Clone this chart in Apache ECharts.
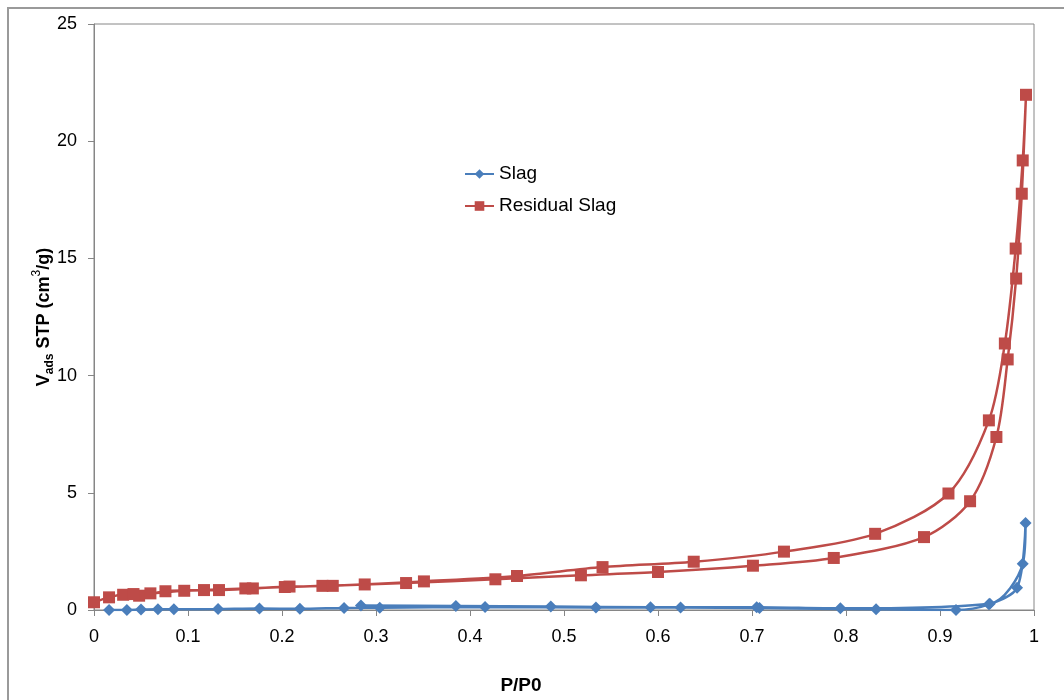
<!DOCTYPE html>
<html>
<head>
<meta charset="utf-8">
<script src="https://cdn.jsdelivr.net/npm/echarts@6/dist/echarts.min.js"></script>
<style>
html,body{margin:0;padding:0;background:#fff;}
#chart{width:1064px;height:700px;}
</style>
</head>
<body>
<div id="chart"></div>
<script>
// Tick settings
var xTicks = [0, 0.1, 0.2, 0.3, 0.4, 0.5, 0.6, 0.7, 0.8, 0.9, 1];
var yTicks = [0, 5, 10, 15, 20, 25];

// Slag (adsorption then desorption, in measured order)
var slagP = [0.016, 0.035, 0.050, 0.068, 0.085, 0.132, 0.176, 0.219, 0.266, 0.304, 0.416, 0.534, 0.624, 0.708, 0.832, 0.917, 0.952, 0.982, 0.991,
             0.988, 0.953, 0.794, 0.705, 0.592, 0.486, 0.385, 0.284];
var slagV = [0.00, 0.00, 0.02, 0.03, 0.03, 0.04, 0.06, 0.05, 0.09, 0.10, 0.13, 0.11, 0.11, 0.08, 0.03, 0.00, 0.24, 0.95, 3.71,
             1.97, 0.27, 0.07, 0.12, 0.12, 0.15, 0.17, 0.19];

// Residual Slag (adsorption then desorption)
var resP = [0.000, 0.016, 0.031, 0.048, 0.076, 0.117, 0.161, 0.203, 0.243, 0.288, 0.332, 0.427, 0.518, 0.600, 0.701, 0.787, 0.883, 0.932, 0.960, 0.972, 0.981, 0.987, 0.9915,
            0.988, 0.9805, 0.969, 0.952, 0.909, 0.831, 0.734, 0.638, 0.541, 0.450, 0.351, 0.254, 0.208, 0.169, 0.133, 0.096, 0.060, 0.042];
var resV = [0.33, 0.54, 0.65, 0.61, 0.80, 0.85, 0.92, 0.98, 1.03, 1.09, 1.15, 1.31, 1.48, 1.62, 1.89, 2.22, 3.11, 4.64, 7.38, 10.69, 14.14, 17.76, 21.98,
            19.18, 15.42, 11.37, 8.09, 4.97, 3.25, 2.49, 2.06, 1.83, 1.45, 1.22, 1.03, 1.00, 0.92, 0.85, 0.82, 0.71, 0.68];

var seriesNames = ['Slag', 'Residual Slag'];

function pairs(xs, ys) { return xs.map(function (x, i) { return [x, ys[i]]; }); }

var chart = echarts.init(document.getElementById('chart'), null, {renderer: 'canvas'});
var font = '"Liberation Sans", Arial, sans-serif';
var axisGrey = '#868686';

chart.setOption({
  animation: false,
  backgroundColor: '#fff',
  textStyle: {fontFamily: font},
  graphic: [{
    type: 'rect', silent: true, z: -10,
    shape: {x: 8, y: 8, width: 1200, height: 900},
    style: {fill: 'none', stroke: '#9a9a9a', lineWidth: 2}
  }],
  grid: {left: 94, right: 30, top: 24, bottom: 89, show: true, borderColor: axisGrey, borderWidth: 1},
  legend: {
    orient: 'vertical', left: 464, top: 164, padding: 0, itemGap: 12, itemWidth: 29, itemHeight: 12,
    data: seriesNames,
    textStyle: {fontFamily: font, fontSize: 19, lineHeight: 20, color: '#000'}
  },
  xAxis: {
    type: 'value', min: xTicks[0], max: xTicks[xTicks.length - 1], interval: 0.1,
    name: 'P/P0', nameLocation: 'middle', nameGap: 66, nameMoveOverlap: false,
    nameTextStyle: {fontFamily: font, fontSize: 19, fontWeight: 'bold', color: '#000', padding: [0, 86, 0, 0]},
    axisLine: {lineStyle: {color: axisGrey, width: 1}},
    axisTick: {show: true, inside: false, length: 6, lineStyle: {color: axisGrey}},
    axisLabel: {fontFamily: font, fontSize: 18, color: '#000', margin: 18},
    splitLine: {show: false}
  },
  yAxis: {
    type: 'value', min: yTicks[0], max: yTicks[yTicks.length - 1], interval: 5,
    name: '{b|V}{sub|ads}{b| STP (cm}{sup|3}{b|/g)}', nameLocation: 'middle', nameRotate: 90, nameGap: 41,
    nameMoveOverlap: false,
    nameTextStyle: {
      rich: {
        b: {fontFamily: font, fontSize: 18, fontWeight: 'bold', color: '#000', verticalAlign: 'bottom', lineHeight: 22},
        sub: {fontFamily: font, fontSize: 12, fontWeight: 'bold', color: '#000', verticalAlign: 'bottom', lineHeight: 22, padding: [0, 0, -3, 0]},
        sup: {fontFamily: font, fontSize: 12, fontWeight: 'normal', color: '#000', verticalAlign: 'top', lineHeight: 22}
      }
    },
    axisLine: {show: true, lineStyle: {color: axisGrey, width: 1}},
    axisTick: {show: true, inside: false, length: 6, lineStyle: {color: axisGrey}},
    axisLabel: {fontFamily: font, fontSize: 18, color: '#000', margin: 17},
    splitLine: {show: false}
  },
  series: [{
    name: seriesNames[0], type: 'line', data: pairs(slagP, slagV), smooth: 0.3,
    symbol: 'diamond', symbolSize: 12, showAllSymbol: true,
    lineStyle: {color: '#4A7EBB', width: 2.5},
    itemStyle: {color: '#4A7EBB'}, z: 3
  }, {
    name: seriesNames[1], type: 'line', data: pairs(resP, resV), smooth: 0.3,
    symbol: 'rect', symbolSize: 12, showAllSymbol: true,
    lineStyle: {color: '#BE4B48', width: 2.5},
    itemStyle: {color: '#BE4B48'}, z: 2
  }]
});
</script>
</body>
</html>
